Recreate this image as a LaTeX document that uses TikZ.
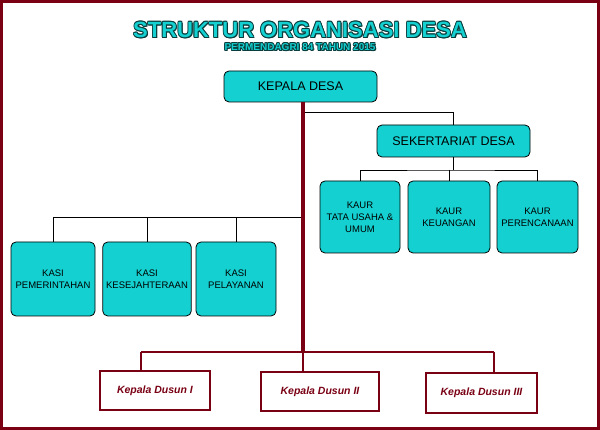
\documentclass[tikz,border=0pt]{standalone}
\usepackage{fontspec}
\setmainfont{Liberation Sans}
\usetikzlibrary{positioning}
\definecolor{tosca}{RGB}{20,208,208}
\definecolor{maroon}{RGB}{122,0,20}
\definecolor{darkteal}{RGB}{10,60,60}
\tikzset{
  kotak/.style={draw, thick, fill=tosca, rounded corners=5pt, align=center, font=\fontsize{9.5}{12}\selectfont},
  dusun/.style={draw=maroon, line width=2.5pt, fill=white, text=maroon, font=\fontsize{10.5}{12}\selectfont\bfseries\itshape},
  judulfont/.style={font=\fontsize{22}{24}\selectfont\bfseries},
  subfont/.style={font=\fontsize{10}{12}\selectfont\bfseries},
  garis/.style={thin},
  merah/.style={maroon, line width=2.5pt}
}
\begin{document}
\begin{tikzpicture}[x=1pt, y=-1pt]
    % Frame
    \useasboundingbox (0,0) rectangle (600,430);
    \draw[maroon, line width=3pt] (1.5,1.5) rectangle (598.5,428.5);
    % Title with outline
    \foreach \dx/\dy in {-0.8/0,0.8/0,0/-0.8,0/0.8,-0.6/-0.6,0.6/0.6,-0.6/0.6,0.6/-0.6,1.2/1.2}{
      \node[judulfont, text=darkteal] at (300+\dx,30+\dy) {STRUKTUR ORGANISASI DESA};
      \node[subfont, text=darkteal] at (300+\dx,47+\dy) {PERMENDAGRI 84 TAHUN 2015};
    }
    \node[judulfont, text=tosca] (judul) at (300,30) {STRUKTUR ORGANISASI DESA};
    \node[subfont, text=tosca] (subjudul) at (300,47) {PERMENDAGRI 84 TAHUN 2015};

    % Kepala desa and sekretariat
    \node[kotak, minimum width=153pt, minimum height=31pt, font=\fontsize{12.5}{14}\selectfont] (kades) at (300.5,86.5) {KEPALA DESA};
    \node[kotak, minimum width=153pt, minimum height=32pt, font=\fontsize{12.5}{14}\selectfont] (sekdes) at (453.5,141) {SEKERTARIAT DESA};

    % Kaur
    \node[kotak, minimum width=80pt, minimum height=72pt] (kaur1) at (360,217) {KAUR\\TATA USAHA \&\\UMUM};
    \node[kotak, minimum width=82pt, minimum height=72pt] (kaur2) at (449,217) {KAUR\\KEUANGAN};
    \node[kotak, minimum width=81pt, minimum height=72pt] (kaur3) at (537.5,217) {KAUR\\PERENCANAAN};

    % Kasi
    \node[kotak, minimum width=84pt, minimum height=74pt] (kasi1) at (53,279) {KASI\\PEMERINTAHAN};
    \node[kotak, minimum width=88pt, minimum height=74pt] (kasi2) at (147,279) {KASI\\KESEJAHTERAAN};
    \node[kotak, minimum width=80pt, minimum height=74pt] (kasi3) at (236,279) {KASI\\PELAYANAN};

    % Dusun
    \node[dusun, minimum width=110pt, minimum height=39pt] (dusun1) at (155,390.5) {Kepala Dusun I};
    \node[dusun, minimum width=118pt, minimum height=39pt] (dusun2) at (320,391.5) {Kepala Dusun II};
    \node[dusun, minimum width=111pt, minimum height=40pt] (dusun3) at (481.5,393) {Kepala Dusun III};

    % Coordinates
    \coordinate (pusat) at (303,352);
    \coordinate (cabang) at (303,112);
    \coordinate (kiri) at (303,217);
    \coordinate (tengah) at (453,170);
    \coordinate (dkiri) at (141,352);
    \coordinate (dkanan) at (494,352);

    % Lines
    \draw[garis] (cabang) -| (sekdes.north);
    \draw[garis] (sekdes.south -| tengah) -- (tengah);
    \draw[garis] (kaur1.north) |- (tengah) -| (kaur3.north);
    \draw[garis] (tengah -| kaur2.north) -- (kaur2.north);
    \draw[garis] (kiri) -| (kasi1.north);
    \draw[garis] (kiri) -| (kasi2.north);
    \draw[garis] (kiri) -| (kasi3.north);
    \draw[merah] (dkiri) -- (dkanan);
    \draw[merah] (dkiri) -- (dkiri |- dusun1.north);
    \draw[merah] (dkanan) -- (dkanan |- dusun3.north);
    \draw[merah] (pusat) -- (pusat |- dusun2.north);
    \draw[maroon, line width=4pt] (kades.south -| pusat) -- (pusat);
\end{tikzpicture}
\end{document}
